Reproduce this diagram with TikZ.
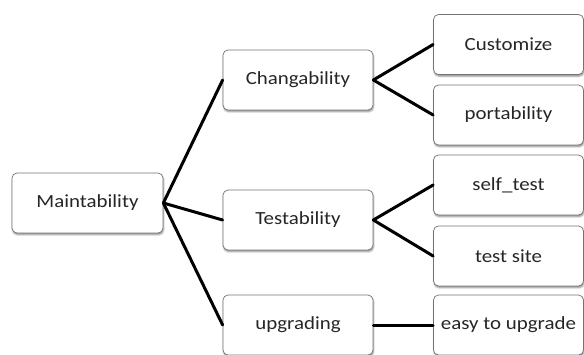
\documentclass[tikz,border=0pt]{standalone}
\usepackage{fontspec}
\setmainfont{Carlito}[FakeStretch=1.13]
\usetikzlibrary{shadows.blur}
\begin{document}
\begin{tikzpicture}[x=1pt,y=-1pt,
  box/.style={draw=black!55, line width=0.7pt, rounded corners=5pt, fill=white,
    minimum width=150pt, minimum height=60pt, inner sep=0pt,
    font=\fontsize{18.5}{20}\selectfont, text=black!85,
    blur shadow={shadow xshift=0.6pt, shadow yshift=-1.8pt, shadow blur radius=1.6pt, shadow opacity=45}},
  link/.style={line width=3pt, black, line cap=round}]
\useasboundingbox (0,0) rectangle (584,354);
\clip (0,0) rectangle (584,354);

% root
\node[box, minimum width=151pt] (main) at (87.5,203) {Maintability};

% second level
\node[box] (chg) at (298,80) {Changability};
\node[box] (tst) at (298,220) {Testability};
\node[box] (upg) at (298,325) {upgrading};

% leaves
\node[box] (cus) at (508.5,44.5) {Customize};
\node[box] (por) at (508.5,115) {portability};
\node[box] (slf) at (508.5,185) {self\_test};
\node[box] (sit) at (508.5,256) {test site};
\node[box] (eas) at (508.5,325) {easy to upgrade};

% connectors
\draw[link] (main.east) -- (chg.west);
\draw[link] (main.east) -- (tst.west);
\draw[link] (main.east) -- (upg.west);
\draw[link] (chg.east) -- (cus.west);
\draw[link] (chg.east) -- (por.west);
\draw[link] (tst.east) -- (slf.west);
\draw[link] (tst.east) -- (sit.west);
\draw[link] (upg.east) -- (eas.west);
\end{tikzpicture}
\end{document}
